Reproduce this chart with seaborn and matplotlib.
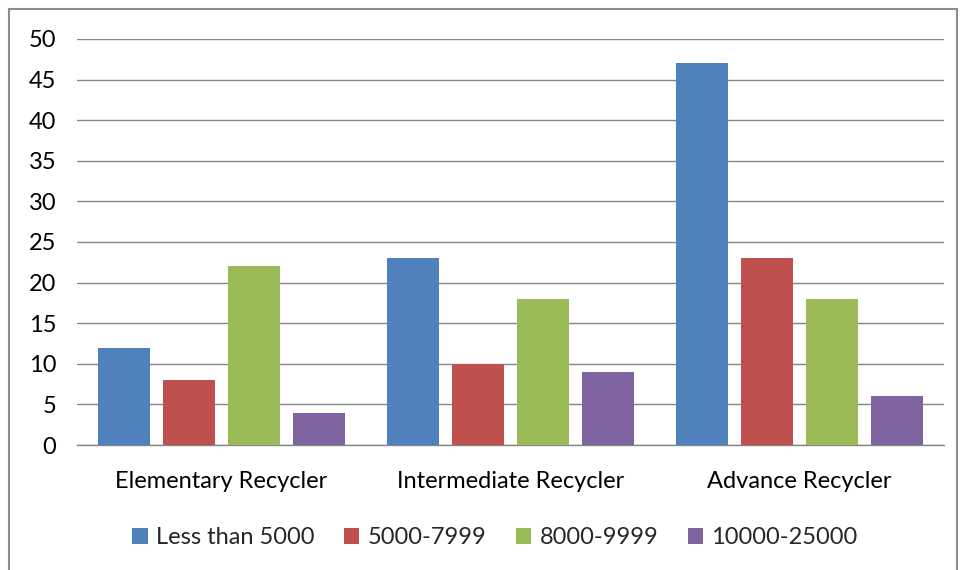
import matplotlib
matplotlib.use("Agg")
import matplotlib.pyplot as plt
import seaborn as sns
import pandas as pd
from matplotlib.patches import Rectangle

categories = ["Elementary Recycler", "Intermediate Recycler", "Advance Recycler"]
series = ["Less than 5000", "5000-7999", "8000-9999", "10000-25000"]
less_than_5000 = [12, 23, 47]
s_5000_7999 = [8, 10, 23]
s_8000_9999 = [22, 18, 18]
s_10000_25000 = [4, 9, 6]
colors = ["#4F81BD", "#C0504D", "#9BBB59", "#8064A2"]
yticks = [0, 5, 10, 15, 20, 25, 30, 35, 40, 45, 50]

values = [less_than_5000, s_5000_7999, s_8000_9999, s_10000_25000]
rows = []
for s, vals in zip(series, values):
    for c, v in zip(categories, vals):
        rows.append({"category": c, "series": s, "value": v})
df = pd.DataFrame(rows)

sns.set_theme(style="white")
plt.rcParams["font.family"] = ["Lato", "DejaVu Sans"]

fig = plt.figure(figsize=(9.6, 5.7), dpi=100)
ax = fig.add_axes([77/960, 1-445/570, (944-77)/960, (445-39)/570])

sns.barplot(data=df, x="category", y="value", hue="series", order=categories,
            hue_order=series, palette=colors, width=0.9, gap=0.2,
            saturation=1, linewidth=0, ax=ax, legend=True, zorder=3)

ax.set_ylim(0, 50)
ax.set_yticks(yticks)
ax.yaxis.grid(True, color="#868686", linewidth=1.0, zorder=0)
ax.set_axisbelow(True)
for side in ["top", "right", "left"]:
    ax.spines[side].set_visible(False)
ax.spines["bottom"].set_color("#868686")
ax.spines["bottom"].set_linewidth(1.0)
ax.tick_params(axis="both", length=0, labelsize=17, colors="black")
ax.tick_params(axis="y", pad=15)
ax.tick_params(axis="x", pad=19)
ax.set_xlabel("")
ax.set_ylabel("")

handles, labels = ax.get_legend_handles_labels()
ax.get_legend().remove()
fig.legend(handles, labels, loc="center", bbox_to_anchor=(495/960, 1-538/570),
           ncol=4, frameon=False, fontsize=17, handlelength=0.65,
           handleheight=0.65, handletextpad=0.35, columnspacing=1.25)

fig.patches.append(Rectangle((9/960, -0.01), (957-9)/960, 1-9/570+0.01,
                             transform=fig.transFigure, fill=False,
                             edgecolor="#8c8c8c", linewidth=1.5))

fig.savefig("out.png", dpi=100, facecolor="white")
